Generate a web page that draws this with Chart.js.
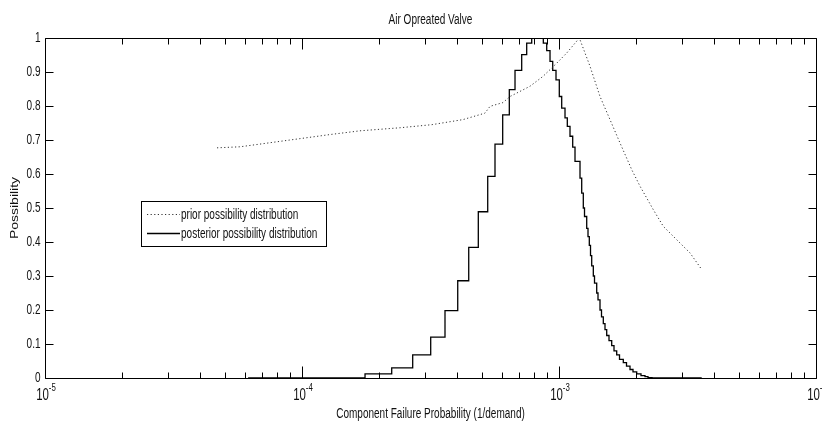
<!DOCTYPE html>
<html>
<head>
<meta charset="utf-8">
<script src="https://cdn.jsdelivr.net/npm/chart.js@4.4.1/dist/chart.umd.min.js"></script>
<style>
  html, body { margin: 0; padding: 0; background: #fff; }
  #wrap { width: 822px; height: 423px; position: relative; }
</style>
</head>
<body>
<div id="wrap"><canvas id="c" width="822" height="423"></canvas></div>
<script>
// ---- data ----
const titleText = 'Air Opreated Valve';
const xTitle = 'Component Failure Probability (1/demand)';
const yTitle = 'Possibility';
const seriesNames = ['prior possibility distribution', 'posterior possibility distribution'];

const priorX = [4.67e-5, 5.74e-5, 7.51e-5, 9.82e-5, 1.285e-4, 1.681e-4, 2.406e-4, 3.196e-4, 4.23e-4, 5.15e-4, 5.39e-4, 6.05e-4, 6.45e-4, 7.71e-4, 8.66e-4, 9.80e-4, 1.072e-3, 1.200e-3, 1.320e-3, 1.444e-3, 1.579e-3, 1.728e-3, 1.918e-3, 2.067e-3, 2.328e-3, 2.546e-3, 2.957e-3, 3.233e-3, 3.592e-3];
const priorY = [0.677, 0.68, 0.692, 0.704, 0.716, 0.727, 0.736, 0.745, 0.76, 0.779, 0.799, 0.81, 0.828, 0.858, 0.887, 0.926, 0.956, 1.0, 0.917, 0.828, 0.76, 0.691, 0.613, 0.564, 0.495, 0.446, 0.397, 0.368, 0.319];

const postX = [6.17e-5, 1.759e-4, 2.234e-4, 2.696e-4, 3.168e-4, 3.601e-4, 4.036e-4, 4.454e-4, 4.853e-4, 5.280e-4, 5.636e-4, 6.038e-4, 6.407e-4, 6.743e-4, 7.159e-4, 7.487e-4, 7.831e-4, 8.689e-4, 8.958e-4, 9.227e-4, 9.453e-4, 9.735e-4, 1.0027e-3, 1.0245e-3, 1.0553e-3, 1.0773e-3, 1.1036e-3, 1.1306e-3, 1.1542e-3, 1.2071e-3, 1.2256e-3, 1.2433e-3, 1.2568e-3, 1.2818e-3, 1.2968e-3, 1.3120e-3, 1.3262e-3, 1.3405e-3, 1.3599e-3, 1.3746e-3, 1.4019e-3, 1.4183e-3, 1.4440e-3, 1.4635e-3, 1.4873e-3, 1.5101e-3, 1.5333e-3, 1.5652e-3, 1.6035e-3, 1.6369e-3, 1.6770e-3, 1.7196e-3, 1.7791e-3, 1.8308e-3, 1.8892e-3, 1.9407e-3, 2.0061e-3, 2.0847e-3, 2.1608e-3, 2.2197e-3, 2.3007e-3, 3.592e-3];
const postY = [0, 0.012, 0.03, 0.068, 0.12, 0.198, 0.286, 0.384, 0.489, 0.593, 0.688, 0.774, 0.848, 0.905, 0.951, 0.985, 1.0, 0.985, 0.963, 0.931, 0.905, 0.877, 0.828, 0.794, 0.765, 0.740, 0.711, 0.679, 0.637, 0.588, 0.544, 0.50, 0.475, 0.44, 0.416, 0.39, 0.36, 0.33, 0.30, 0.279, 0.25, 0.23, 0.20, 0.18, 0.16, 0.142, 0.125, 0.11, 0.095, 0.08, 0.068, 0.055, 0.045, 0.035, 0.025, 0.018, 0.012, 0.007, 0.004, 0.001, 0, 0];

const xMajorTicks = [1e-5, 1e-4, 1e-3, 1e-2];
const xTickBase = ['10', '10', '10', '10'];
const xTickExp = ['-5', '-4', '-3', '-2'];
const xMinorMult = [2, 3, 4, 5, 6, 7, 8, 9];
const yTicks = [0, 0.1, 0.2, 0.3, 0.4, 0.5, 0.6, 0.7, 0.8, 0.9, 1];
const yTickLabels = ['0', '0.1', '0.2', '0.3', '0.4', '0.5', '0.6', '0.7', '0.8', '0.9', '1'];

// ---- drawing ----
const SX = 0.715;            // horizontal squeeze of the reference text
const FONT = '"Liberation Sans", Arial, sans-serif';
const TEXT = '#111';

function sText(ctx, str, x, y, align, size) {
  ctx.save();
  ctx.font = size + 'px ' + FONT;
  ctx.translate(x, y);
  ctx.scale(SX, 1);
  ctx.textAlign = align;
  ctx.fillText(str, 0, 0);
  ctx.restore();
}
function sWidth(ctx, str, size) {
  ctx.save();
  ctx.font = size + 'px ' + FONT;
  const w = ctx.measureText(str).width * SX;
  ctx.restore();
  return w;
}

const axesPlugin = {
  id: 'matlabAxes',
  afterDatasetsDraw(chart) {
    const { ctx, chartArea: a, scales } = chart;
    const xs = scales.x, ys = scales.y;
    const L = Math.round(a.left) + 0.5, R = Math.round(a.right) + 0.5;
    const T = Math.round(a.top) + 0.5, B = Math.round(a.bottom) + 0.5;
    ctx.save();
    ctx.strokeStyle = '#000';
    ctx.lineWidth = 1;
    ctx.setLineDash([]);
    // box
    ctx.beginPath();
    ctx.rect(L, T, R - L, B - T);
    ctx.stroke();
    // x ticks (major + minor), bottom and top, pointing inward
    ctx.beginPath();
    xMajorTicks.forEach((v, i) => {
      const px = Math.round(xs.getPixelForValue(v)) + 0.5;
      ctx.moveTo(px, B); ctx.lineTo(px, B - 12);
      ctx.moveTo(px, T); ctx.lineTo(px, T + 11);
      if (i < xMajorTicks.length - 1) {
        xMinorMult.forEach(m => {
          const qx = Math.round(xs.getPixelForValue(v * m)) + 0.5;
          ctx.moveTo(qx, B); ctx.lineTo(qx, B - 6);
          ctx.moveTo(qx, T); ctx.lineTo(qx, T + 6);
        });
      }
    });
    // y ticks left and right
    yTicks.forEach(v => {
      const py = Math.round(ys.getPixelForValue(v)) + 0.5;
      ctx.moveTo(L, py); ctx.lineTo(L + 8, py);
      ctx.moveTo(R, py); ctx.lineTo(R - 8, py);
    });
    ctx.stroke();

    // tick labels
    ctx.fillStyle = TEXT;
    ctx.textBaseline = 'middle';
    yTicks.forEach((v, i) => {
      const py = ys.getPixelForValue(v);
      sText(ctx, yTickLabels[i], L - 5, py + 0.5, 'right', 14);
    });
    ctx.textBaseline = 'alphabetic';
    xMajorTicks.forEach((v, i) => {
      const px = xs.getPixelForValue(v);
      const wb = sWidth(ctx, xTickBase[i], 16);
      const we = sWidth(ctx, xTickExp[i], 11);
      const x0 = px + 1 - (wb + we) / 2;
      sText(ctx, xTickBase[i], x0, 400, 'left', 16);
      sText(ctx, xTickExp[i], x0 + wb, 391, 'left', 11);
    });

    // title and axis titles
    const cx = (a.left + a.right) / 2;
    sText(ctx, titleText, cx, 24, 'center', 14);
    sText(ctx, xTitle, cx, 418, 'center', 14);
    ctx.save();
    ctx.translate(18, (a.top + a.bottom) / 2);
    ctx.rotate(-Math.PI / 2);
    ctx.scale(1, SX);
    ctx.font = '14px ' + FONT;
    ctx.textAlign = 'center';
    ctx.textBaseline = 'alphabetic';
    ctx.fillText(yTitle, 0, 0);
    ctx.restore();

    // legend
    const lx = 141.5, ly = 201.5, lw = 185, lh = 45;
    ctx.fillStyle = '#fff';
    ctx.fillRect(lx, ly, lw, lh);
    ctx.strokeStyle = '#000';
    ctx.strokeRect(lx, ly, lw, lh);
    const rows = [214.5, 233.5];
    chart.data.datasets.forEach((ds, i) => {
      ctx.beginPath();
      ctx.strokeStyle = ds.borderColor;
      ctx.lineWidth = ds.borderWidth;
      ctx.setLineDash(ds.borderDash || []);
      ctx.moveTo(147, rows[i]);
      ctx.lineTo(180, rows[i]);
      ctx.stroke();
      ctx.setLineDash([]);
      ctx.fillStyle = TEXT;
      ctx.textBaseline = 'middle';
      sText(ctx, ds.label, 181, rows[i] + 0.5, 'left', 14);
    });
    ctx.restore();
  }
};

const priorData = priorX.map((x, i) => ({ x, y: priorY[i] }));
const postData = postX.map((x, i) => ({ x, y: postY[i] }));

new Chart(document.getElementById('c'), {
  type: 'line',
  data: {
    datasets: [
      { label: seriesNames[0], data: priorData, borderColor: '#333', borderWidth: 1,
        borderDash: [1.2, 2.4], pointRadius: 0, tension: 0, fill: false },
      { label: seriesNames[1], data: postData, borderColor: '#000', borderWidth: 1.3,
        stepped: 'before', pointRadius: 0, tension: 0, fill: false }
    ]
  },
  options: {
    responsive: false,
    animation: false,
    devicePixelRatio: 1,
    layout: { padding: { left: 45, right: 6, top: 38, bottom: 45 } },
    plugins: { legend: { display: false }, title: { display: false }, tooltip: { enabled: false } },
    scales: {
      x: { type: 'logarithmic', min: 1e-5, max: 1e-2, display: false },
      y: { type: 'linear', min: 0, max: 1, display: false }
    }
  },
  plugins: [axesPlugin]
});
</script>
</body>
</html>
